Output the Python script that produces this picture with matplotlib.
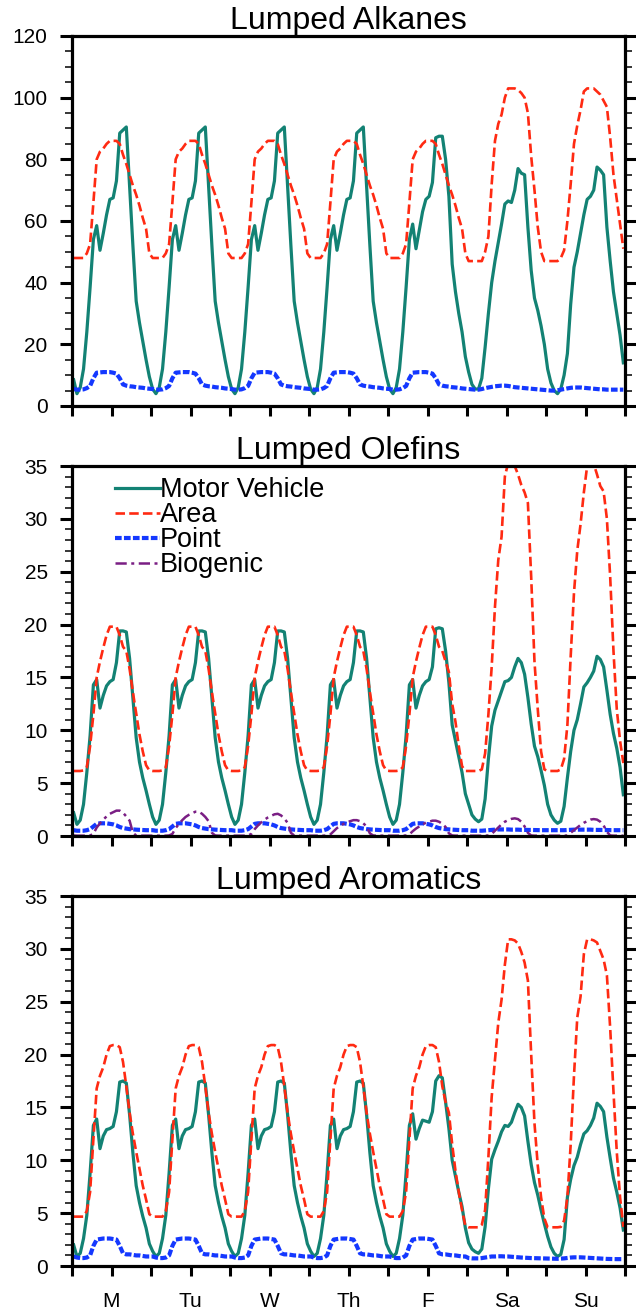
import matplotlib.pyplot as plt
import numpy as np
from matplotlib.ticker import MultipleLocator

plt.rcParams['font.family'] = ['Liberation Sans', 'DejaVu Sans']

# hourly emissions over one week, plotted at mid-hour
hours = np.arange(168) + 0.5
day_names = ['M', 'Tu', 'W', 'Th', 'F', 'Sa', 'Su']

# ---- Lumped Alkanes ----
alk_mv_wk = [5.5, 4.0, 6.0, 12.0, 24.0, 38.5, 54.0, 58.5, 50.5, 56.0, 62.0, 67.0,
             67.5, 73.0, 88.5, 89.5, 90.5, 71.0, 52.0, 34.0, 27.0, 21.0, 15.0, 9.5]
alk_mv_mo = [8.5] + alk_mv_wk[1:]
alk_mv_fr = [5.5, 4.0, 6.0, 12.0, 24.0, 38.5, 54.0, 59.0, 51.0, 57.0, 63.0, 67.0,
             68.0, 72.5, 87.0, 87.5, 87.5, 80.0, 68.0, 46.0, 37.0, 30.0, 24.0, 16.0]
alk_mv_sa = [11.0, 7.0, 5.5, 5.5, 9.0, 19.0, 30.0, 40.0, 47.0, 53.0, 59.0, 65.5,
             66.5, 66.0, 70.0, 77.0, 75.5, 75.0, 58.0, 44.0, 35.0, 31.0, 26.0, 20.0]
alk_mv_su = [12.0, 7.5, 5.0, 4.0, 5.5, 10.0, 17.0, 33.0, 45.0, 50.0, 56.0, 62.0,
             67.0, 68.0, 70.0, 77.5, 76.5, 75.0, 58.0, 47.0, 37.0, 30.0, 23.0, 14.0]

alk_area_wk = [48.0, 48.0, 48.0, 48.0, 49.5, 52.5, 66.0, 80.0, 82.5, 83.5, 85.0, 86.0,
               86.0, 86.0, 85.0, 81.5, 78.5, 75.0, 71.5, 68.5, 65.0, 61.0, 57.5, 49.5]
alk_area_sa = [47.0, 47.0, 47.0, 47.0, 47.0, 50.0, 55.0, 72.0, 86.0, 91.5, 94.5, 100.0,
               103.0, 103.0, 103.0, 102.5, 101.5, 100.0, 95.0, 81.0, 70.0, 58.0, 50.0, 47.0]
alk_area_su = [47.0, 47.0, 47.0, 47.0, 48.0, 50.5, 60.0, 72.0, 85.0, 91.0, 96.0, 102.0,
               103.0, 103.0, 103.0, 102.0, 101.0, 99.0, 97.0, 87.0, 75.0, 67.0, 59.0, 51.0]

alk_pt_wk = [5.5, 5.3, 5.3, 5.4, 5.8, 6.5, 9.0, 10.8, 10.9, 11.0, 11.0, 11.0,
             10.8, 10.5, 9.0, 7.0, 6.6, 6.4, 6.3, 6.1, 6.0, 5.9, 5.7, 5.6]
alk_pt_sa = [5.5, 5.4, 5.3, 5.3, 5.5, 5.8, 6.0, 6.2, 6.4, 6.5, 6.6, 6.6,
             6.5, 6.3, 6.1, 6.0, 5.9, 5.8, 5.7, 5.6, 5.5, 5.4, 5.3, 5.2]
alk_pt_su = [5.1, 5.0, 5.0, 5.1, 5.3, 5.5, 5.7, 5.9, 6.0, 6.0, 6.0, 5.9,
             5.8, 5.7, 5.6, 5.5, 5.4, 5.4, 5.3, 5.3, 5.3, 5.3, 5.3, 5.3]

# ---- Lumped Olefins ----
ole_mv_wk = [1.8, 1.1, 1.5, 3.0, 6.0, 9.5, 14.3, 14.8, 12.1, 13.3, 14.2, 14.6,
             14.8, 16.4, 19.4, 19.4, 19.3, 16.8, 13.0, 9.3, 7.0, 5.5, 4.3, 3.0]
ole_mv_mo = [2.2] + ole_mv_wk[1:]
ole_mv_fr = [1.8, 1.1, 1.5, 3.0, 6.0, 9.5, 14.3, 14.8, 12.1, 13.3, 14.2, 14.6,
             14.8, 16.0, 19.6, 19.7, 19.6, 17.5, 14.5, 10.5, 9.0, 7.5, 6.0, 4.0]
ole_mv_sa = [3.0, 2.0, 1.6, 1.35, 1.6, 3.5, 7.3, 10.4, 11.9, 12.8, 13.7, 14.6,
             14.7, 15.0, 16.0, 16.8, 16.4, 15.3, 13.1, 10.6, 8.5, 7.5, 6.2, 4.8]
ole_mv_su = [3.0, 2.0, 1.5, 1.2, 1.4, 2.8, 5.5, 8.0, 10.0, 11.0, 12.5, 14.1,
             14.5, 15.0, 15.6, 17.0, 16.7, 16.0, 13.8, 11.5, 9.7, 8.3, 6.5, 3.9]

ole_area_wk = [6.15, 6.15, 6.15, 6.2, 6.5, 8.5, 11.5, 15.0, 16.5, 17.8, 19.0, 19.8,
               19.8, 19.8, 19.0, 17.9, 17.5, 15.8, 13.6, 11.6, 9.6, 8.0, 6.7, 6.2]
ole_area_fr = [6.15, 6.15, 6.15, 6.2, 6.5, 8.5, 11.5, 15.0, 16.5, 17.8, 19.0, 19.8,
               19.8, 19.8, 19.0, 17.9, 17.5, 16.5, 15.5, 12.5, 10.8, 8.5, 6.6, 6.15]
ole_area_sa = [6.15, 6.15, 6.15, 6.15, 6.3, 7.8, 11.5, 16.0, 21.7, 26.1, 28.3, 34.0,
               35.3, 35.3, 35.0, 34.2, 33.2, 32.5, 31.5, 24.5, 16.5, 12.0, 8.0, 6.3]
ole_area_su = [6.15, 6.15, 6.15, 6.15, 6.3, 7.3, 10.5, 17.0, 23.0, 27.0, 29.5, 32.5,
               35.0, 35.3, 35.2, 34.2, 33.1, 32.6, 30.0, 24.5, 17.5, 12.0, 9.0, 6.9]

ole_pt_wk = [0.55, 0.5, 0.5, 0.5, 0.55, 0.65, 0.9, 1.15, 1.2, 1.2, 1.2, 1.15,
             1.1, 1.0, 0.85, 0.75, 0.7, 0.65, 0.62, 0.6, 0.58, 0.56, 0.55, 0.55]
ole_pt_sa = [0.55, 0.5, 0.5, 0.5, 0.5, 0.52, 0.55, 0.58, 0.6, 0.62, 0.62, 0.62,
             0.62, 0.6, 0.6, 0.6, 0.58, 0.58, 0.57, 0.57, 0.56, 0.56, 0.55, 0.55]
ole_pt_su = [0.55, 0.55, 0.55, 0.55, 0.55, 0.55, 0.57, 0.58, 0.6, 0.6, 0.6, 0.6,
             0.6, 0.6, 0.58, 0.58, 0.57, 0.57, 0.56, 0.56, 0.55, 0.55, 0.55, 0.55]

ole_bio_mo = [0.05, 0.03, 0.03, 0.03, 0.03, 0.05, 0.2, 0.8, 1.2, 1.55, 1.85, 2.1,
              2.25, 2.4, 2.4, 2.2, 1.85, 1.45, 0.3, 0.05, 0.03, 0.03, 0.03, 0.03]
ole_bio_tu = [0.03, 0.03, 0.03, 0.03, 0.03, 0.05, 0.2, 0.75, 1.15, 1.5, 1.8, 2.0,
              2.15, 2.3, 2.3, 2.1, 1.8, 1.4, 0.3, 0.05, 0.03, 0.03, 0.03, 0.03]
ole_bio_we = [0.03, 0.03, 0.03, 0.03, 0.03, 0.05, 0.2, 0.65, 1.0, 1.3, 1.55, 1.75,
              1.9, 2.05, 2.1, 1.95, 1.65, 1.25, 0.3, 0.05, 0.03, 0.03, 0.03, 0.03]
ole_bio_th = [0.03, 0.03, 0.03, 0.03, 0.03, 0.05, 0.15, 0.45, 0.75, 0.95, 1.15, 1.3,
              1.4, 1.5, 1.5, 1.4, 1.2, 0.9, 0.25, 0.05, 0.03, 0.03, 0.03, 0.03]
ole_bio_fr = [0.03, 0.03, 0.03, 0.03, 0.03, 0.05, 0.15, 0.45, 0.7, 0.9, 1.1, 1.25,
              1.35, 1.45, 1.45, 1.35, 1.15, 0.85, 0.25, 0.05, 0.03, 0.03, 0.03, 0.03]
ole_bio_sa = [0.03, 0.03, 0.03, 0.03, 0.03, 0.03, 0.05, 0.2, 0.5, 0.8, 1.1, 1.35,
              1.5, 1.62, 1.67, 1.6, 1.35, 0.9, 0.3, 0.05, 0.03, 0.03, 0.03, 0.03]
ole_bio_su = [0.03, 0.03, 0.03, 0.03, 0.03, 0.03, 0.05, 0.3, 0.55, 0.8, 1.05, 1.25,
              1.4, 1.55, 1.6, 1.55, 1.35, 1.0, 0.4, 0.05, 0.03, 0.03, 0.03, 0.03]

# ---- Lumped Aromatics ----
aro_mv_wk = [1.4, 0.9, 1.2, 2.6, 4.8, 8.8, 13.3, 13.9, 11.1, 12.3, 12.9, 13.0,
             13.2, 14.6, 17.4, 17.5, 17.3, 14.3, 10.7, 7.6, 6.0, 4.7, 3.6, 2.1]
aro_mv_mo = [2.0] + aro_mv_wk[1:]
aro_mv_fr = [1.4, 0.9, 1.2, 2.6, 4.8, 8.8, 13.3, 14.4, 12.0, 13.0, 13.8, 13.7,
             13.6, 14.6, 17.5, 18.0, 17.8, 15.5, 13.0, 10.0, 8.5, 7.0, 5.6, 3.6]
aro_mv_sa = [2.2, 1.6, 1.35, 1.2, 1.6, 3.7, 7.3, 10.1, 11.0, 11.8, 12.7, 13.3,
             13.2, 13.6, 14.5, 15.3, 15.0, 14.2, 11.8, 9.6, 7.9, 6.7, 5.3, 4.0]
aro_mv_su = [2.8, 1.8, 1.2, 0.9, 1.1, 2.5, 6.5, 8.2, 9.5, 10.3, 11.5, 12.5,
             12.8, 13.3, 14.0, 15.4, 15.1, 14.6, 12.2, 10.2, 8.3, 7.0, 5.5, 3.4]

aro_area_wk = [4.67, 4.67, 4.67, 4.67, 5.2, 7.0, 12.0, 16.8, 18.0, 18.8, 20.0, 20.8,
               20.9, 20.9, 20.7, 19.3, 17.0, 14.5, 12.5, 10.8, 9.2, 7.6, 6.3, 4.9]
aro_area_fr = [4.67, 4.67, 4.67, 4.67, 5.2, 7.0, 12.0, 16.8, 18.0, 18.8, 20.0, 20.8,
               20.9, 20.9, 20.7, 19.3, 17.0, 15.5, 14.5, 11.5, 9.0, 7.0, 5.3, 3.8]
aro_area_sa = [3.66, 3.66, 3.66, 3.66, 3.9, 5.3, 10.3, 16.0, 19.5, 23.0, 25.2, 28.5,
               30.9, 30.9, 30.8, 30.5, 29.7, 28.7, 27.0, 20.0, 13.5, 9.5, 6.5, 4.5]
aro_area_su = [3.66, 3.66, 3.66, 3.66, 3.7, 4.3, 6.5, 11.5, 18.0, 23.5, 25.5, 29.5,
               30.9, 30.9, 30.8, 30.6, 29.8, 29.0, 27.5, 22.5, 16.5, 10.8, 6.5, 3.7]

aro_pt_wk = [0.9, 0.8, 0.75, 0.75, 0.8, 1.0, 1.9, 2.5, 2.55, 2.6, 2.6, 2.6,
             2.55, 2.5, 1.9, 1.2, 1.1, 1.1, 1.05, 1.0, 1.0, 0.95, 0.9, 0.9]
aro_pt_sa = [0.75, 0.72, 0.72, 0.72, 0.75, 0.8, 0.85, 0.9, 0.9, 0.92, 0.92, 0.9,
             0.9, 0.88, 0.85, 0.82, 0.8, 0.78, 0.76, 0.75, 0.74, 0.73, 0.72, 0.72]
aro_pt_su = [0.7, 0.7, 0.68, 0.68, 0.7, 0.72, 0.76, 0.8, 0.82, 0.82, 0.82, 0.8,
             0.78, 0.76, 0.74, 0.72, 0.7, 0.68, 0.67, 0.66, 0.66, 0.65, 0.65, 0.65]

# join the days of the week (Mon..Sun)
alk = {
    'Motor Vehicle': alk_mv_mo + alk_mv_wk * 3 + alk_mv_fr + alk_mv_sa + alk_mv_su,
    'Area': alk_area_wk * 5 + alk_area_sa + alk_area_su,
    'Point': alk_pt_wk * 5 + alk_pt_sa + alk_pt_su,
}
ole = {
    'Motor Vehicle': ole_mv_mo + ole_mv_wk * 3 + ole_mv_fr + ole_mv_sa + ole_mv_su,
    'Area': ole_area_wk * 4 + ole_area_fr + ole_area_sa + ole_area_su,
    'Point': ole_pt_wk * 5 + ole_pt_sa + ole_pt_su,
    'Biogenic': (ole_bio_mo + ole_bio_tu + ole_bio_we + ole_bio_th + ole_bio_fr
                 + ole_bio_sa + ole_bio_su),
}
aro = {
    'Motor Vehicle': aro_mv_mo + aro_mv_wk * 3 + aro_mv_fr + aro_mv_sa + aro_mv_su,
    'Area': aro_area_wk * 4 + aro_area_fr + aro_area_sa + aro_area_su,
    'Point': aro_pt_wk * 5 + aro_pt_sa + aro_pt_su,
}

styles = {
    'Motor Vehicle': dict(color='#138274', lw=2.3, ls='-'),
    'Area': dict(color='#ff2a12', lw=1.9, ls=(0, (3.6, 1.6))),
    'Point': dict(color='#1438ff', lw=3.0, ls=(0, (1.6, 0.55))),
    'Biogenic': dict(color='#7a1e84', lw=1.8, ls=(0, (4.5, 1.8, 1.2, 1.8))),
}

fig = plt.figure(figsize=(6.36, 13.14), dpi=100)
left, width, height = 72 / 636, 553 / 636, 370 / 1314
panels = [
    ('Lumped Alkanes', alk, 120, 20, 5, 1 - 406 / 1314),
    ('Lumped Olefins', ole, 35, 5, 1, 1 - 836 / 1314),
    ('Lumped Aromatics', aro, 35, 5, 1, 1 - 1266 / 1314),
]

axes = []
for title, data, ymax, ymaj, ymin, bottom in panels:
    ax = fig.add_axes([left, bottom, width, height])
    for name, vals in data.items():
        st = styles[name]
        ax.plot(hours, vals, color=st['color'], lw=st['lw'], ls=st['ls'], label=name)
    ax.set_xlim(0, 168)
    ax.set_ylim(0, ymax)
    ax.set_title(title, fontsize=23, pad=5)
    ax.set_xticks(np.arange(0, 169, 12))
    ax.set_xticklabels([])
    ax.yaxis.set_major_locator(MultipleLocator(ymaj))
    ax.yaxis.set_minor_locator(MultipleLocator(ymin))
    ax.tick_params(axis='x', direction='out', length=7, width=2.2, labelsize=15, pad=12)
    ax.tick_params(axis='y', which='major', direction='out', length=8.5, width=2.2,
                   labelsize=15, pad=9, right=True)
    ax.tick_params(axis='y', which='minor', direction='out', length=5, width=1.1,
                   right=True)
    for sp in ax.spines.values():
        sp.set_linewidth(2.3)
    axes.append(ax)

# weekday names centred on each day
ticks = np.arange(0, 169, 12)
axes[2].set_xticklabels(['' if t % 24 == 0 else day_names[t // 24] for t in ticks])

axes[1].legend(loc='upper left', bbox_to_anchor=(0.078, 0.969), frameon=False,
               fontsize=19.5, handlelength=1.65, handletextpad=0.0,
               labelspacing=-0.04, borderpad=0, borderaxespad=0)

fig.savefig('out.png', dpi=100)
